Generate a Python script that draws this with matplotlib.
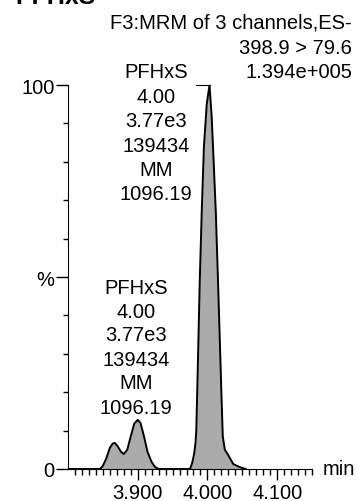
import matplotlib.pyplot as plt
import numpy as np

plt.rcParams['font.family'] = ['Liberation Sans', 'DejaVu Sans']

# chromatogram trace (time in min, intensity in %)
t = [3.800, 3.846, 3.850, 3.855, 3.860, 3.864, 3.867, 3.871, 3.876, 3.880,
     3.885, 3.890, 3.895, 3.900, 3.904, 3.909, 3.914, 3.920, 3.925, 3.930,
     3.975, 3.978, 3.981, 3.983, 3.984, 3.986, 3.989, 3.992, 3.995, 3.999,
     4.003, 4.006, 4.008, 4.012, 4.015, 4.018, 4.020, 4.022, 4.025, 4.029,
     4.037, 4.045, 4.051, 4.055]
pct = [0, 0, 0.8, 2.8, 5.5, 6.6, 6.8, 6.0, 4.5, 3.9,
       5.0, 8.5, 11.8, 12.8, 12.0, 8.5, 4.5, 1.8, 0.5, 0,
       0, 1.5, 4, 7, 10, 25, 49, 68, 84, 95,
       100, 92, 84, 67, 50, 32, 20, 8.5, 5, 3.9,
       1.3, 0.6, 0.2, 0]

peak_label = ['PFHxS', '4.00', '3.77e3', '139434', 'MM', '1096.19']
header = ['F3:MRM of 3 channels,ES-', '398.9 > 79.6', '1.394e+005']
xticks = [3.900, 4.000, 4.100]

W, H = 358, 502
FS = 14.5
fig = plt.figure(figsize=(W/100, H/100), dpi=100)
ax = fig.add_axes([68/W, 32/H, 244/W, 384/H])

ax.fill_between(t, pct, 0, color='#ababab', linewidth=0)
ax.plot(t, pct, color='black', lw=1.4)

# little apex marker the software draws at the top of the main peak
i_max = int(np.argmax(pct))
ax.plot([t[i_max] - 0.02, t[i_max]], [pct[i_max], pct[i_max]], color='black', lw=0.8, clip_on=False)

ax.set_xlim(3.80, 4.15)
ax.set_ylim(0, 100)
for s in ['top', 'right']:
    ax.spines[s].set_visible(False)

ax.set_xticks(xticks)
ax.set_xticklabels(['%.3f' % v for v in xticks], fontsize=FS)
ax.set_xticks(np.arange(3.81, 4.15, 0.01), minor=True)
ax.set_yticks([0, 50, 100])
ax.set_yticklabels(['0', '%', '100'], fontsize=FS)
ax.set_yticks(np.arange(10, 100, 10), minor=True)
ax.tick_params(axis='x', which='major', length=8, width=1, pad=2)
ax.tick_params(axis='x', which='minor', length=4.3, width=1)
ax.tick_params(axis='y', which='major', length=8.6, width=1, pad=1)
ax.tick_params(axis='y', which='minor', length=3.6, width=1)

ax.text(1.045, 0, 'min', transform=ax.transAxes, fontsize=FS, va='center', ha='left')

# peak labels, one line at a time (pixel centres from the reference)
for i, s in enumerate(peak_label):
    fig.text(156/W, 1 - (73 + 24.4*i)/H, s, fontsize=FS, ha='center', va='center')
    fig.text(136/W, 1 - (288 + 24*i)/H, s, fontsize=FS, ha='center', va='center')

# header text
for i, h in enumerate(header):
    fig.text(352/W, 1 - (23 + 25*i)/H, h, fontsize=FS, ha='right', va='center')

fig.text(15/W, 1 - 4/H, 'PFHxS', fontsize=18, fontweight='bold', va='baseline')

fig.savefig('out.png', dpi=100)
